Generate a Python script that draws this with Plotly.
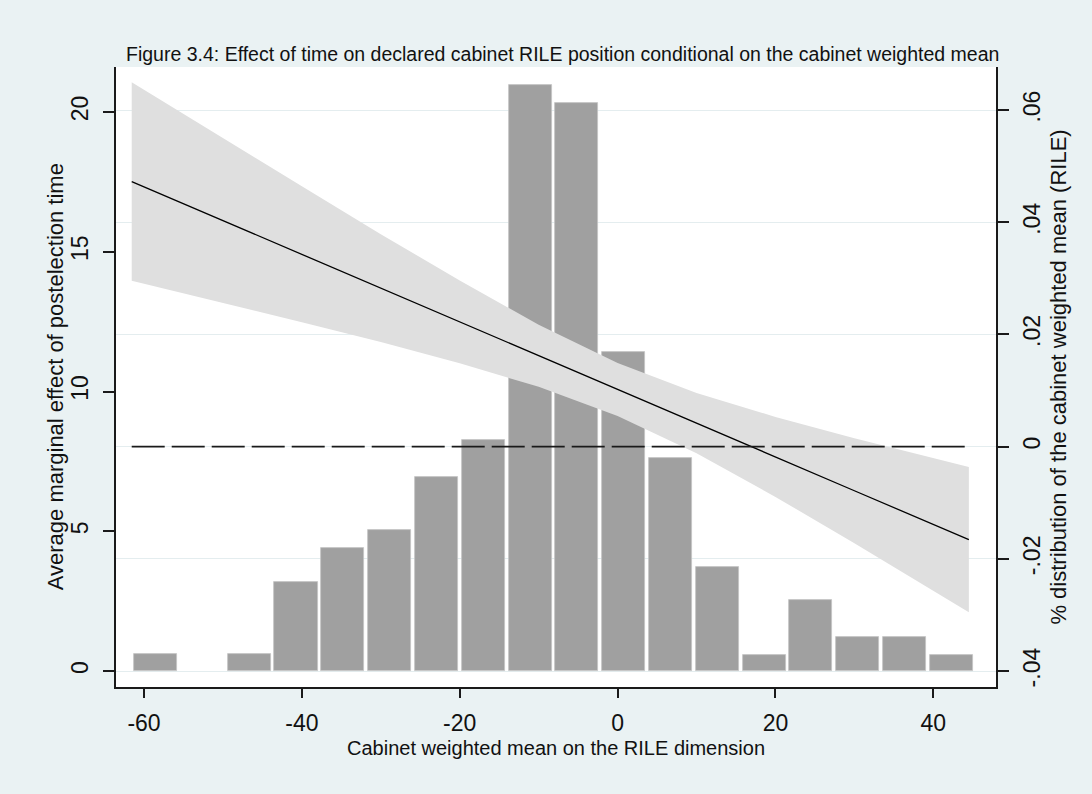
import plotly.graph_objects as go

# ---- data ----
# histogram of cabinet weighted mean (bin centres, heights on left axis scale)
bin_start = -61.5
bin_width = 5.93
bar_heights = [0.60, 0.0, 0.60, 3.18, 4.40, 5.05, 6.95, 8.25, 20.97, 20.31,
               11.42, 7.61, 3.73, 0.58, 2.54, 1.23, 1.23, 0.58]

# marginal effect line and 95% CI band
me_x = [-61.56, -50, -40, -30, -20, -10, 0, 10, 20, 30, 44.5]
me_y = [17.51, 16.11, 14.91, 13.70, 12.49, 11.28, 10.07, 8.87, 7.66, 6.45, 4.70]
ci_upper = [21.06, 19.05, 17.34, 15.63, 13.97, 12.39, 11.02, 9.95, 9.09, 8.33, 7.30]
ci_lower = [13.96, 13.17, 12.48, 11.77, 11.01, 10.17, 9.12, 7.79, 6.23, 4.57, 2.10]

left_ticks = [0, 5, 10, 15, 20]
right_ticks = [-0.04, -0.02, 0, 0.02, 0.04, 0.06]
right_ticktext = ["-.04", "-.02", "0", ".02", ".04", ".06"]
x_ticks = [-60, -40, -20, 0, 20, 40]
x_ticktext = ["-60", "-40", "-20", "0", "20", "40"]

bar_centres = [bin_start + bin_width * (i + 0.5) for i in range(len(bar_heights))]
bar_line_w = [0.8 if h > 0 else 0 for h in bar_heights]

FONT = "Liberation Sans, Arial, sans-serif"
BG = "#EAF2F3"

fig = go.Figure()

fig.add_trace(go.Bar(
    x=bar_centres, y=bar_heights, width=bin_width * 0.92,
    marker=dict(color="#A0A0A0", line=dict(color="#C4C4C4", width=bar_line_w)),
    xaxis="x", yaxis="y", hoverinfo="skip", showlegend=False))

fig.add_trace(go.Scatter(
    x=me_x + me_x[::-1], y=ci_upper + ci_lower[::-1],
    fill="toself", fillcolor="#DFDFDF", mode="lines",
    line=dict(width=0, color="#DFDFDF"),
    xaxis="x", yaxis="y", hoverinfo="skip", showlegend=False))

fig.add_trace(go.Scatter(
    x=me_x, y=me_y, mode="lines", line=dict(color="#000000", width=1.3),
    xaxis="x", yaxis="y", showlegend=False))

fig.add_trace(go.Scatter(
    x=[me_x[0], me_x[-1]], y=[0, 0], mode="lines",
    line=dict(color="#1a1a1a", width=1.8, dash="33px,7px"),
    xaxis="x", yaxis="y2", showlegend=False))

axis_common = dict(showline=True, linecolor="#1a1a1a", linewidth=1.5,
                   ticks="outside", tickcolor="#1a1a1a", tickwidth=1.5,
                   zeroline=False, tickfont=dict(family=FONT, size=23, color="#111"))

fig.update_layout(
    width=1092, height=794,
    margin=dict(l=116, r=96, t=67, b=107),
    paper_bgcolor=BG, plot_bgcolor="white",
    bargap=0,
    xaxis=dict(range=[-63.55, 47.94], tickvals=x_ticks, ticktext=x_ticktext, ticklen=9,
               showgrid=False, ticklabelstandoff=6, **axis_common),
    yaxis=dict(range=[-0.572, 21.61], tickvals=left_ticks, ticklen=11,
               tickangle=-90, showgrid=False, ticklabelstandoff=6, **axis_common),
    yaxis2=dict(range=[-0.04285, 0.06767], tickvals=right_ticks,
                ticktext=right_ticktext, ticklen=11, tickangle=-90,
                overlaying="y", side="right", showgrid=True,
                gridcolor="#E4EDEF", gridwidth=1, ticklabelstandoff=4,
                **axis_common),
    font=dict(family=FONT, color="#111"),
    annotations=[
        dict(text="Figure 3.4: Effect of time on declared cabinet RILE position conditional on the cabinet weighted mean",
             xref="paper", yref="paper", x=0.507, y=1.021, xanchor="center", yanchor="middle",
             showarrow=False, font=dict(family=FONT, size=19.5, color="#111")),
        dict(text="Cabinet weighted mean on the RILE dimension",
             xref="paper", yref="paper", x=0.5, y=-0.099, xanchor="center", yanchor="middle",
             showarrow=False, font=dict(family=FONT, size=20, color="#111")),
        dict(text="Average marginal effect of postelection time", textangle=-90,
             xref="paper", yref="paper", x=-0.069, y=0.5, xanchor="center", yanchor="middle",
             showarrow=False, font=dict(family=FONT, size=22, color="#111")),
        dict(text="% distribution of the cabinet weighted mean (RILE)", textangle=-90,
             xref="paper", yref="paper", x=1.07, y=0.5, xanchor="center", yanchor="middle",
             showarrow=False, font=dict(family=FONT, size=22, color="#111")),
    ],
)

fig.write_html("out.html", config={"displayModeBar": False},
               post_script="document.body.style.margin='0';")
